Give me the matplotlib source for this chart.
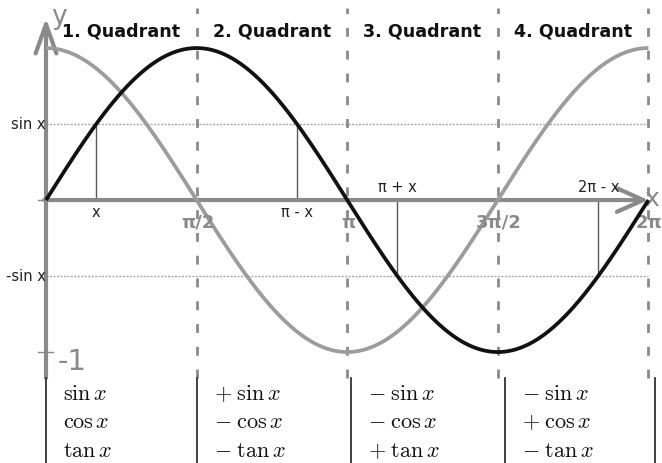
import numpy as np
import matplotlib
matplotlib.use("Agg")
import matplotlib.pyplot as plt

plt.rcParams['font.family'] = ['DejaVu Sans']
plt.rcParams['mathtext.fontset'] = 'cm'

# ---- data ----
quadrant_labels = ["1. Quadrant", "2. Quadrant", "3. Quadrant", "4. Quadrant"]
boundaries = [np.pi / 2, np.pi, 3 * np.pi / 2, 2 * np.pi]
boundary_labels = ["π/2", "π", "3π/2", "2π"]
angle = np.pi / 6
ref_points = [angle, np.pi - angle, np.pi + angle, 2 * np.pi - angle]
ref_labels = ["x", "π - x", "π + x", "2π - x"]
ref_label_side = [-1, -1, 1, 1]
level_values = [0.5, -0.5]
level_labels = ["sin x", "-sin x"]
table_cols = [0.0, 1.575, 3.18, 4.79, 6.35]
table_funcs = [r"\sin x", r"\cos x", r"\tan x"]
table_signs = [["", "", ""], ["+", "-", "-"], ["-", "-", "+"], ["-", "+", "-"]]
table_row_y = [-1.315, -1.50, -1.69]

GRAY = "#8a8a8a"
LIGHT = "#9c9c9c"

fig = plt.figure(figsize=(6.62, 4.63), dpi=100)
ax = fig.add_axes([0, 0, 1, 1])
ax.set_xlim(-0.48, 6.425)
ax.set_ylim(-1.730, 1.316)
ax.axis('off')

t = np.linspace(0, 2 * np.pi, 600)

# dotted levels
for v in level_values:
    ax.plot([0, 2 * np.pi], [v, v], color="#a8a8a8", lw=1, ls=(0, (1.5, 1.0)), zorder=1)

# dashed quadrant boundaries
for b in boundaries:
    ax.plot([b, b], [-1.171, 1.263], color=GRAY, lw=2, ls=(0, (3.2, 5.0)), zorder=1)

# drop lines
for p in ref_points:
    ax.plot([p, p], [0, np.sin(p)], color="#5a5a5a", lw=1, zorder=2)

# axes with arrows
ax.annotate("", xy=(2 * np.pi, 0), xytext=(-0.02, 0),
            arrowprops=dict(arrowstyle="->,head_length=1.9,head_width=0.85", lw=3, color=GRAY,
                            shrinkA=0, shrinkB=0), zorder=2)
ax.annotate("", xy=(0, 1.197), xytext=(0, -1.171),
            arrowprops=dict(arrowstyle="->,head_length=2.1,head_width=0.75", lw=3, color=GRAY,
                            shrinkA=0, shrinkB=0), zorder=2)
for yt in [0, -1]:
    ax.plot([-0.085, 0.075 if yt else 0.0], [yt, yt], color=GRAY, lw=1, zorder=2)

# curves
ax.plot(t, np.cos(t), color=LIGHT, lw=2.7, zorder=3, solid_capstyle='butt')
ax.plot(t, np.sin(t), color="#111111", lw=2.7, zorder=4, solid_capstyle='butt')

# texts
for i, lab in enumerate(quadrant_labels):
    mid = (i * np.pi / 2 + boundaries[i]) / 2
    ax.text(mid, 1.11, lab, ha='center', va='center', fontsize=12.6, fontweight='bold', color='#111111')

for b, lab in zip(boundaries, boundary_labels):
    ax.text(b + 0.01, -0.15, lab, ha='center', va='center', fontsize=13, fontweight='bold', color=GRAY)

for p, lab, s in zip(ref_points, ref_labels, ref_label_side):
    ax.text(p, 0.08 * s, lab, ha='center', va='center', fontsize=10.5, color='#222222')

for v, lab in zip(level_values, level_labels):
    ax.text(-0.005, v, lab, ha='right', va='center', fontsize=10.5, color='#222222')

ax.text(0.125, -1.066, "-1", ha='left', va='center', fontsize=21, color=GRAY)
ax.text(0.05, 1.155, "y", ha='left', va='baseline', fontsize=19, color=GRAY)
ax.text(6.245, 0.01, "x", ha='left', va='center', fontsize=18, color=GRAY)

# table
for c in table_cols:
    ax.plot([c, c], [-1.171, -1.73], color="#333333", lw=1.3, zorder=2)
for ci in range(4):
    for ri in range(3):
        sign = table_signs[ci][ri]
        prefix = "" if sign == "" else sign + r"\;"
        txt = "$" + prefix + table_funcs[ri] + "$"
        ax.text(table_cols[ci] + 0.175, table_row_y[ri], txt, ha='left', va='baseline',
                fontsize=16, color='#111111')

fig.savefig("out.png", dpi=100)
